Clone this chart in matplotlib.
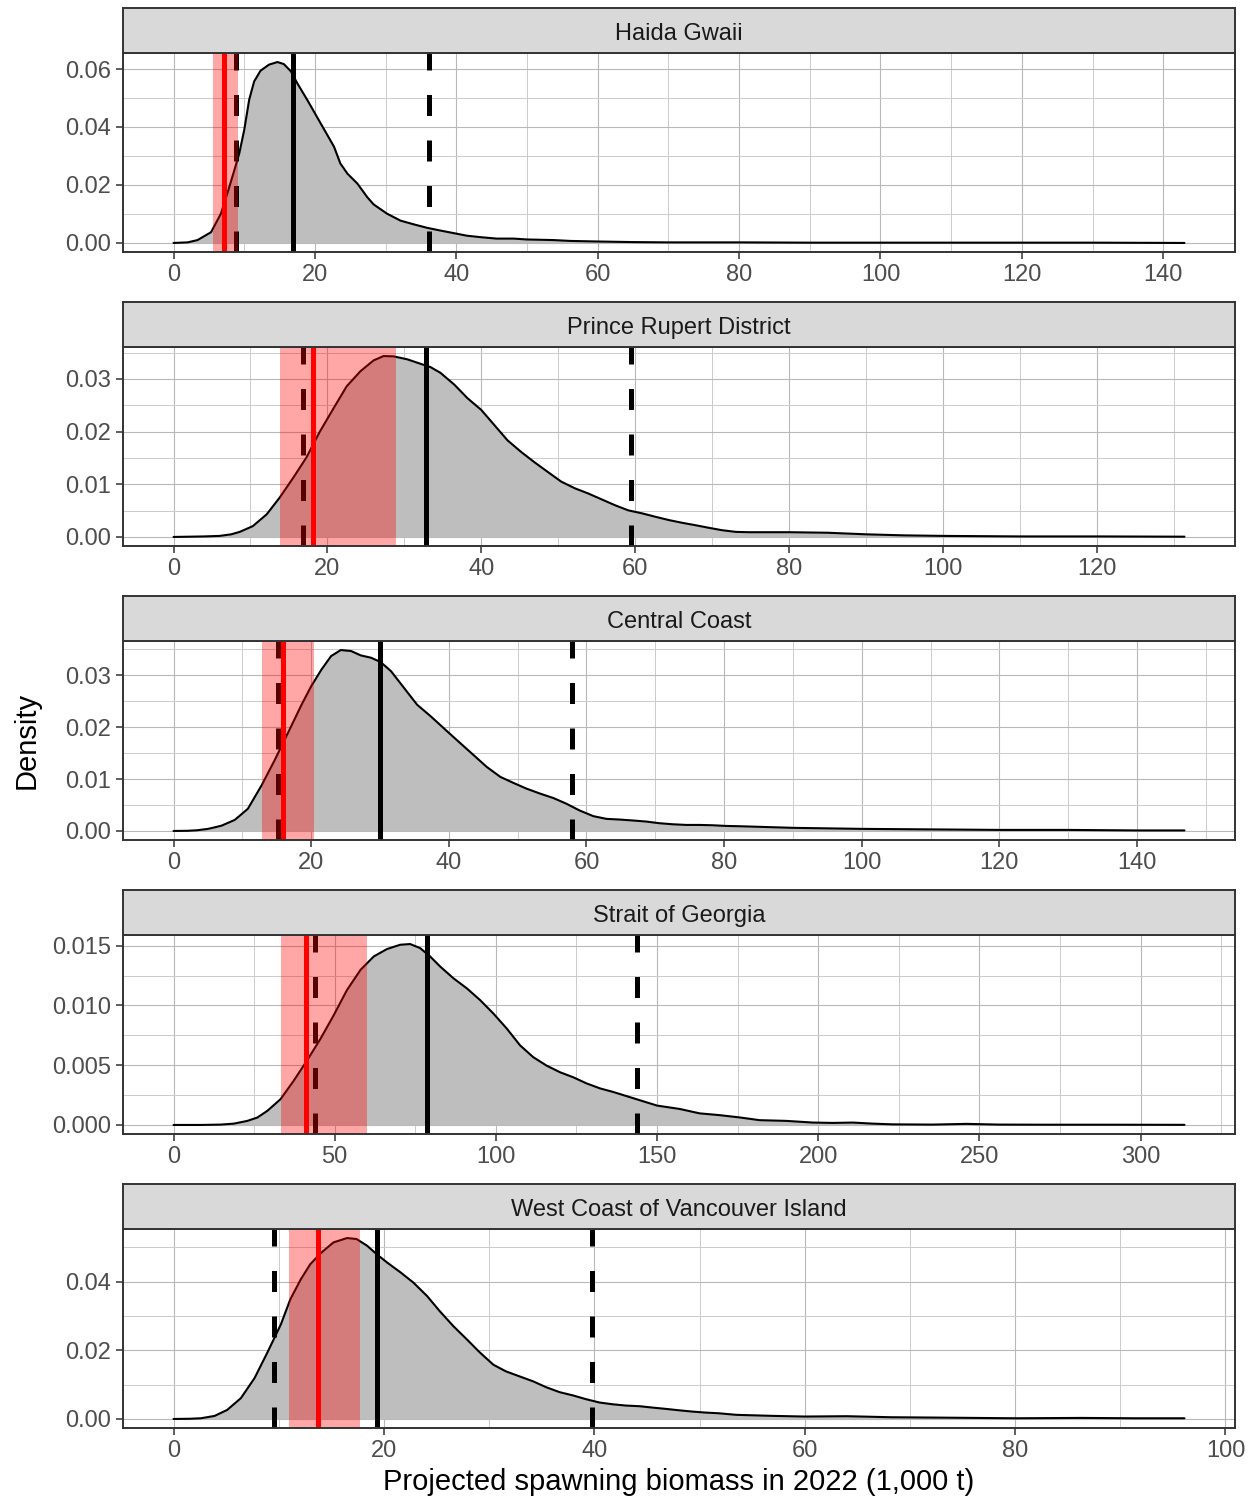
import matplotlib
matplotlib.use('Agg')
import matplotlib.pyplot as plt
from matplotlib.ticker import MultipleLocator, AutoMinorLocator, FormatStrFormatter

plt.rcParams['font.family'] = ['Liberation Sans', 'DejaVu Sans']

# ---------------- data ----------------
regions = ["Haida Gwaii", "Prince Rupert District", "Central Coast",
           "Strait of Georgia", "West Coast of Vancouver Island"]

x_hg = [0, 2, 3.4, 5.3, 6.7, 7.6, 8.6, 9.3, 10.0, 10.7, 11.4, 12.3, 13.5, 14.7, 15.6,
        16.6, 17.5, 18.9, 20.8, 22.7, 23.6, 24.6, 26.0, 27.4, 28.3, 30.2, 32.1, 34.0,
        35.9, 37.7, 39.6, 41.5, 43.4, 45.7, 48.1, 50.0, 53.7, 56.1, 60, 65, 70, 80, 90,
        100, 110, 120, 130, 143]
d_hg = [0, 0.0002, 0.0010, 0.0037, 0.0101, 0.0170, 0.0251, 0.0309, 0.0390, 0.0494,
        0.0557, 0.0594, 0.0615, 0.0624, 0.0617, 0.0592, 0.0551, 0.0494, 0.0413, 0.0332,
        0.0274, 0.0239, 0.0205, 0.0158, 0.0133, 0.0101, 0.0077, 0.0064, 0.0052, 0.0043,
        0.0034, 0.0025, 0.0020, 0.0015, 0.0015, 0.0012, 0.0010, 0.0007, 0.0005, 0.0003,
        0.0002, 0.0002, 0.0001, 0.0001, 0.0001, 0.0001, 0.0001, 0.0000]

x_prd = [0, 4, 6, 7.5, 8.6, 10.3, 12.1, 13.8, 15.6, 17.3, 19.0, 20.8, 22.5, 24.3, 26.0,
         27.3, 28.6, 30.4, 32.1, 33.4, 34.7, 36.5, 38.2, 40.0, 41.7, 43.4, 45.2, 46.9,
         48.7, 50.4, 52.2, 53.9, 55.6, 57.4, 59.1, 60.9, 62.6, 64.4, 66.1, 67.8, 69.6,
         71.3, 73.1, 74.8, 76.6, 80, 85, 90, 95, 100, 110, 120, 131.4]
d_prd = [0, 0.0001, 0.0002, 0.0005, 0.00096, 0.00205, 0.00428, 0.00748, 0.01132,
         0.01515, 0.01995, 0.02442, 0.02858, 0.03146, 0.0335, 0.03433, 0.03427, 0.0337,
         0.03286, 0.03223, 0.03114, 0.0289, 0.02634, 0.0241, 0.02123, 0.01835, 0.01611,
         0.01419, 0.01228, 0.01049, 0.00921, 0.00825, 0.00716, 0.00601, 0.00505, 0.00448,
         0.00384, 0.0032, 0.00269, 0.00224, 0.00173, 0.00128, 0.00096, 0.0009, 0.0009,
         0.0009, 0.0008, 0.0005, 0.0003, 0.0002, 0.0001, 0.0001, 0.00005]

x_cc = [0, 2, 3.4, 5, 6, 7.0, 8.9, 10.8, 12.8, 14.7, 16.6, 18.6, 20.0, 21.5, 22.9, 24.3,
        25.8, 27.2, 28.7, 30.1, 31.6, 33.5, 35.4, 37.4, 39.8, 41.7, 43.6, 45.5, 47.5,
        49.4, 51.3, 53.3, 55.2, 57.1, 59.0, 61.0, 62.9, 64.8, 66.8, 68.7, 70.6, 72.5,
        74.5, 76.4, 78.3, 80.2, 82.2, 85, 90, 100, 110, 120, 130, 140, 146.9]
d_cc = [0, 0.00003, 0.00013, 0.0004, 0.0007, 0.00103, 0.00213, 0.00427, 0.0088, 0.01365,
        0.01882, 0.02432, 0.02788, 0.03111, 0.0337, 0.03486, 0.03467, 0.03383, 0.03338,
        0.03254, 0.03079, 0.02755, 0.02432, 0.02206, 0.01915, 0.01688, 0.01462, 0.01235,
        0.01041, 0.00925, 0.00815, 0.00718, 0.00634, 0.00524, 0.00395, 0.00285, 0.00233,
        0.0022, 0.00201, 0.00181, 0.00149, 0.00129, 0.00116, 0.00116, 0.0011, 0.00097,
        0.00091, 0.0008, 0.0006, 0.0004, 0.0003, 0.0002, 0.0002, 0.0001, 0.0001]

x_sog = [0, 8.4, 14.6, 18.7, 22.9, 26.0, 29.1, 33.2, 37.3, 41.4, 45.6, 49.7, 53.8, 58.0,
         62.1, 66.2, 70.3, 73.4, 76.5, 79.6, 82.7, 86.8, 91.0, 95.1, 99.2, 103.4, 107.5,
         111.6, 115.7, 119.9, 124.0, 128.1, 132.3, 136.4, 142.6, 150.0, 157.0, 163.2,
         169.4, 175.6, 181.8, 190.1, 198.3, 204.5, 210.7, 216.9, 223.1, 235.5, 245.9,
         256.2, 270, 290, 313.6]
d_sog = [0, 0, 0.00003, 0.00011, 0.00034, 0.00062, 0.00118, 0.00216, 0.00371, 0.00539,
         0.00722, 0.00919, 0.01129, 0.01298, 0.0141, 0.01472, 0.01508, 0.01514, 0.0148,
         0.0141, 0.01326, 0.01228, 0.01143, 0.01045, 0.00933, 0.00806, 0.00666, 0.00567,
         0.00497, 0.00441, 0.00399, 0.00348, 0.00306, 0.00276, 0.00224, 0.00162, 0.00134,
         0.00097, 0.00082, 0.00063, 0.0004, 0.00034, 0.0002, 0.00017, 0.0002, 0.00011,
         0.00005, 0.00003, 0.00009, 0.00003, 0.00002, 0.00002, 0.00001]

x_wcvi = [0, 1.5, 2.6, 3.9, 5.1, 6.4, 7.7, 8.9, 10.2, 11.1, 12.1, 13.0, 14.0, 15.2, 16.5,
          17.4, 18.4, 19.3, 20.3, 21.6, 22.8, 24.1, 25.3, 26.6, 27.9, 29.1, 30.4, 31.6,
          32.9, 34.2, 35.4, 36.7, 38.0, 39.2, 40.5, 41.7, 43.0, 44.3, 45.5, 46.8, 48.0,
          49.3, 50.6, 51.8, 53.5, 56.9, 60, 64, 68.2, 72.4, 80, 86.3, 91.3, 96.1]
d_wcvi = [0, 0.00005, 0.0002, 0.00088, 0.00263, 0.00605, 0.0119, 0.01922, 0.02751,
          0.03483, 0.04068, 0.04507, 0.04829, 0.05141, 0.05268, 0.05239, 0.05044, 0.048,
          0.04556, 0.04263, 0.03971, 0.0358, 0.03141, 0.02702, 0.02312, 0.01941, 0.0158,
          0.01385, 0.01239, 0.01093, 0.00927, 0.0078, 0.00683, 0.00576, 0.00478, 0.00429,
          0.0039, 0.00371, 0.00332, 0.00293, 0.00254, 0.00215, 0.00185, 0.00166, 0.0012,
          0.0009, 0.0007, 0.0008, 0.0005, 0.0004, 0.0002, 0.0003, 0.0002, 0.0002]

# reference point summaries (1,000 t)
lrp_lo  = [5.65, 13.85, 12.9, 33.2, 11.0]
lrp_hi  = [9.1, 28.9, 20.45, 60.0, 17.7]
lrp_med = [7.1, 18.1, 15.95, 41.2, 13.72]
sb_q05  = [8.8, 16.8, 15.15, 43.8, 9.58]
sb_med  = [16.9, 32.85, 30.0, 78.7, 19.33]
sb_q95  = [36.1, 59.45, 57.9, 143.8, 39.75]

x_steps = [20, 20, 20, 50, 20]
y_steps = [0.02, 0.01, 0.01, 0.005, 0.02]
y_fmts = ['%.2f', '%.2f', '%.2f', '%.3f', '%.2f']

xs = [x_hg, x_prd, x_cc, x_sog, x_wcvi]
ds = [d_hg, d_prd, d_cc, d_sog, d_wcvi]

# ---------------- figure ----------------
W, H = 1257, 1498
fig = plt.figure(figsize=(W / 100, H / 100), dpi=100)
left_px, right_px = 123, 1235
tops = [53, 347, 641, 935, 1229]
ph, sh = 199, 45
dark = '#333333'

for i, name in enumerate(regions):
    top = tops[i]
    ax = fig.add_axes([left_px / W, 1 - (top + ph) / H, (right_px - left_px) / W, ph / H])
    x, d = xs[i], ds[i]
    xmax, ymax = max(x), max(d)
    ax.set_xlim(-0.05 * xmax, 1.05 * xmax)
    ax.set_ylim(-0.05 * ymax, 1.05 * ymax)

    ax.fill_between(x, 0, d, color='#BEBEBE', lw=0, zorder=2)
    ax.plot(x, d, color='black', lw=1.5, zorder=3, solid_joinstyle='round',
            solid_capstyle='round')

    for q in (sb_q05[i], sb_q95[i]):
        ax.axvline(q, color='black', lw=3.6, ls=(0, (4.2, 4.9)), zorder=4)
    ax.axvline(sb_med[i], color='black', lw=3.6, zorder=4)
    ax.axvspan(lrp_lo[i], lrp_hi[i], color='red', alpha=0.35, lw=0, zorder=5)
    ax.axvline(lrp_med[i], color='red', lw=3.6, zorder=6)

    ax.xaxis.set_major_locator(MultipleLocator(x_steps[i]))
    ax.yaxis.set_major_locator(MultipleLocator(y_steps[i]))
    ax.xaxis.set_minor_locator(AutoMinorLocator(2))
    ax.yaxis.set_minor_locator(AutoMinorLocator(2))
    ax.yaxis.set_major_formatter(FormatStrFormatter(y_fmts[i]))
    ax.set_axisbelow(True)
    ax.grid(which='major', color='#B8B8B8', lw=0.8)
    ax.grid(which='minor', color='#CBCBCB', lw=0.7)
    ax.tick_params(which='major', length=5, width=1.1, color=dark,
                   labelcolor='#4D4D4D', labelsize=17, pad=3.5)
    ax.tick_params(which='minor', length=0)
    for s in ax.spines.values():
        s.set_color(dark)
        s.set_linewidth(1.4)
        s.set_zorder(10)

    sax = fig.add_axes([left_px / W, 1 - top / H, (right_px - left_px) / W, sh / H])
    sax.set_facecolor('#D9D9D9')
    sax.set_xticks([])
    sax.set_yticks([])
    for s in sax.spines.values():
        s.set_color(dark)
        s.set_linewidth(1.4)
    sax.text(0.5, 0.43, name, ha='center', va='center', fontsize=17,
             color='#1A1A1A', transform=sax.transAxes)

fig.text(679 / W, 1 - 1482 / H, 'Projected spawning biomass in 2022 (1,000 t)',
         ha='center', va='center', fontsize=21, color='black')
fig.text(27 / W, 1 - 740 / H, 'Density', rotation=90, ha='center', va='center',
         fontsize=21, color='black')

fig.savefig('out.png', dpi=100)
